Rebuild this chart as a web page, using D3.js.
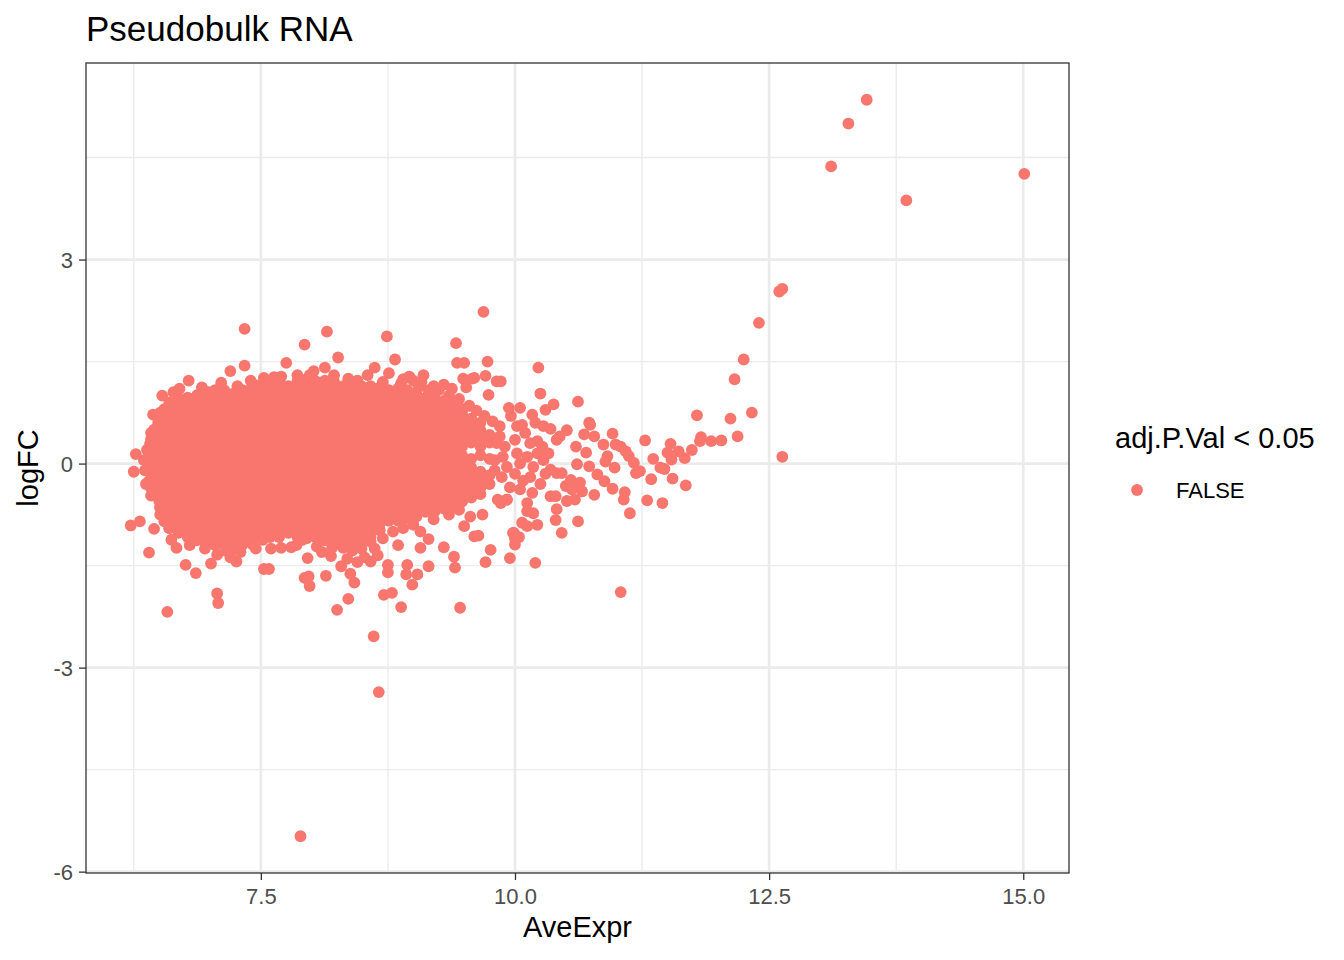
<!DOCTYPE html>
<html lang="en">
<head>
    <meta charset="UTF-8">
    <title>Pseudobulk RNA</title>
    <style>
        body { margin: 0; background: #fff; }
        svg { display: block; }
        text { font-family: "Liberation Sans", Arial, Helvetica, sans-serif; }
        .grid-major { stroke: #ebebeb; stroke-width: 2.7px; }
        .grid-minor { stroke: #ebebeb; stroke-width: 1.35px; }
        .axis line { stroke: #333333; stroke-width: 1.3px; }
        .axis text { fill: #4d4d4d; font-size: 22px; }
    </style>
</head>
<body>
    <script src="https://d3js.org/d3.v7.min.js"></script>
    <script>
        // axis ticks and grid
        const xMajor = [7.5, 10, 12.5, 15];
        const xMinor = [6.25, 8.75, 11.25, 13.75];
        const yMajor = [-6, -3, 0, 3];
        const yMinor = [-4.5, -1.5, 1.5, 4.5];

        const legendTitle = "adj.P.Val < 0.05";
        const legendLabels = ["FALSE"];

        // dense body of the cloud, one column of logFC values per AveExpr value
        const cloudColumns = [
            [6.42, [-0.47, -0.36, -0.23, -0.12, 0.01, 0.12, 0.25, 0.36, 0.45]],
            [6.51, [-0.75, -0.65, -0.54, -0.41, -0.30, -0.17, -0.06, 0.07, 0.18, 0.31, 0.42, 0.55, 0.66, 0.75]],
            [6.60, [-0.95, -0.84, -0.71, -0.60, -0.47, -0.36, -0.23, -0.12, 0.01, 0.12, 0.25, 0.36, 0.49, 0.60, 0.73, 0.84, 0.90]],
            [6.69, [-1.02, -0.89, -0.78, -0.65, -0.54, -0.41, -0.30, -0.17, -0.06, 0.07, 0.18, 0.31, 0.42, 0.55, 0.66, 0.79, 0.90, 0.96]],
            [6.78, [-1.08, -0.95, -0.84, -0.71, -0.60, -0.47, -0.36, -0.23, -0.12, 0.01, 0.12, 0.25, 0.36, 0.49, 0.60, 0.73, 0.84, 0.97]],
            [6.87, [-1.13, -1.02, -0.89, -0.78, -0.65, -0.54, -0.41, -0.30, -0.17, -0.06, 0.07, 0.18, 0.31, 0.42, 0.55, 0.66, 0.79, 0.90, 1.00]],
            [6.96, [-1.19, -1.08, -0.95, -0.84, -0.71, -0.60, -0.47, -0.36, -0.23, -0.12, 0.01, 0.12, 0.25, 0.36, 0.49, 0.60, 0.73, 0.84, 0.97, 1.05]],
            [7.05, [-1.20, -1.13, -1.02, -0.89, -0.78, -0.65, -0.54, -0.41, -0.30, -0.17, -0.06, 0.07, 0.18, 0.31, 0.42, 0.55, 0.66, 0.79, 0.90, 1.02]],
            [7.14, [-1.19, -1.08, -0.95, -0.84, -0.71, -0.60, -0.47, -0.36, -0.23, -0.12, 0.01, 0.12, 0.25, 0.36, 0.49, 0.60, 0.73, 0.84, 0.97, 1.08]],
            [7.23, [-1.25, -1.13, -1.02, -0.89, -0.78, -0.65, -0.54, -0.41, -0.30, -0.17, -0.06, 0.07, 0.18, 0.31, 0.42, 0.55, 0.66, 0.79, 0.90, 1.03]],
            [7.32, [-1.19, -1.08, -0.95, -0.84, -0.71, -0.60, -0.47, -0.36, -0.23, -0.12, 0.01, 0.12, 0.25, 0.36, 0.49, 0.60, 0.73, 0.84, 0.97, 1.08]],
            [7.41, [-1.13, -1.02, -0.89, -0.78, -0.65, -0.54, -0.41, -0.30, -0.17, -0.06, 0.07, 0.18, 0.31, 0.42, 0.55, 0.66, 0.79, 0.90, 1.03, 1.12]],
            [7.50, [-1.08, -0.95, -0.84, -0.71, -0.60, -0.47, -0.36, -0.23, -0.12, 0.01, 0.12, 0.25, 0.36, 0.49, 0.60, 0.73, 0.84, 0.97, 1.08, 1.15]],
            [7.59, [-1.08, -1.02, -0.89, -0.78, -0.65, -0.54, -0.41, -0.30, -0.17, -0.06, 0.07, 0.18, 0.31, 0.42, 0.55, 0.66, 0.79, 0.90, 1.03, 1.14]],
            [7.68, [-1.08, -0.95, -0.84, -0.71, -0.60, -0.47, -0.36, -0.23, -0.12, 0.01, 0.12, 0.25, 0.36, 0.49, 0.60, 0.73, 0.84, 0.97, 1.08, 1.20]],
            [7.77, [-1.02, -0.89, -0.78, -0.65, -0.54, -0.41, -0.30, -0.17, -0.06, 0.07, 0.18, 0.31, 0.42, 0.55, 0.66, 0.79, 0.90, 1.03, 1.14]],
            [7.86, [-1.08, -0.95, -0.84, -0.71, -0.60, -0.47, -0.36, -0.23, -0.12, 0.01, 0.12, 0.25, 0.36, 0.49, 0.60, 0.73, 0.84, 0.97, 1.08, 1.21]],
            [7.95, [-1.10, -1.02, -0.89, -0.78, -0.65, -0.54, -0.41, -0.30, -0.17, -0.06, 0.07, 0.18, 0.31, 0.42, 0.55, 0.66, 0.79, 0.90, 1.03, 1.14, 1.24]],
            [8.04, [-1.08, -0.95, -0.84, -0.71, -0.60, -0.47, -0.36, -0.23, -0.12, 0.01, 0.12, 0.25, 0.36, 0.49, 0.60, 0.73, 0.84, 0.97, 1.08, 1.21]],
            [8.13, [-1.13, -1.02, -0.89, -0.78, -0.65, -0.54, -0.41, -0.30, -0.17, -0.06, 0.07, 0.18, 0.31, 0.42, 0.55, 0.66, 0.79, 0.90, 1.03, 1.14, 1.22]],
            [8.22, [-1.18, -1.08, -0.95, -0.84, -0.71, -0.60, -0.47, -0.36, -0.23, -0.12, 0.01, 0.12, 0.25, 0.36, 0.49, 0.60, 0.73, 0.84, 0.97, 1.08, 1.20]],
            [8.31, [-1.24, -1.13, -1.02, -0.89, -0.78, -0.65, -0.54, -0.41, -0.30, -0.17, -0.06, 0.07, 0.18, 0.31, 0.42, 0.55, 0.66, 0.79, 0.90, 1.03, 1.14]],
            [8.40, [-1.28, -1.19, -1.08, -0.95, -0.84, -0.71, -0.60, -0.47, -0.36, -0.23, -0.12, 0.01, 0.12, 0.25, 0.36, 0.49, 0.60, 0.73, 0.84, 0.97, 1.08, 1.16]],
            [8.49, [-1.25, -1.13, -1.02, -0.89, -0.78, -0.65, -0.54, -0.41, -0.30, -0.17, -0.06, 0.07, 0.18, 0.31, 0.42, 0.55, 0.66, 0.79, 0.90, 1.03, 1.14]],
            [8.58, [-1.15, -1.08, -0.95, -0.84, -0.71, -0.60, -0.47, -0.36, -0.23, -0.12, 0.01, 0.12, 0.25, 0.36, 0.49, 0.60, 0.73, 0.84, 0.97, 1.08, 1.14]],
            [8.67, [-0.98, -0.89, -0.78, -0.65, -0.54, -0.41, -0.30, -0.17, -0.06, 0.07, 0.18, 0.31, 0.42, 0.55, 0.66, 0.79, 0.90, 1.03, 1.12]],
            [8.76, [-0.84, -0.71, -0.60, -0.47, -0.36, -0.23, -0.12, 0.01, 0.12, 0.25, 0.36, 0.49, 0.60, 0.73, 0.84, 0.97, 1.08]],
            [8.85, [-0.84, -0.78, -0.65, -0.54, -0.41, -0.30, -0.17, -0.06, 0.07, 0.18, 0.31, 0.42, 0.55, 0.66, 0.79, 0.90, 1.03, 1.10]],
            [8.94, [-0.80, -0.71, -0.60, -0.47, -0.36, -0.23, -0.12, 0.01, 0.12, 0.25, 0.36, 0.49, 0.60, 0.73, 0.84, 0.97, 1.08]],
            [9.03, [-0.78, -0.65, -0.54, -0.41, -0.30, -0.17, -0.06, 0.07, 0.18, 0.31, 0.42, 0.55, 0.66, 0.79, 0.90, 1.03]],
            [9.12, [-0.71, -0.60, -0.47, -0.36, -0.23, -0.12, 0.01, 0.12, 0.25, 0.36, 0.49, 0.60, 0.73, 0.84, 0.97]],
            [9.21, [-0.70, -0.65, -0.54, -0.41, -0.30, -0.17, -0.06, 0.07, 0.18, 0.31, 0.42, 0.55, 0.66, 0.79, 0.90, 0.96]],
            [9.30, [-0.66, -0.60, -0.47, -0.36, -0.23, -0.12, 0.01, 0.12, 0.25, 0.36, 0.49, 0.60, 0.73, 0.84, 0.92]],
            [9.39, [-0.62, -0.54, -0.41, -0.30, -0.17, -0.06, 0.07, 0.18, 0.31, 0.42, 0.55, 0.66, 0.79, 0.88]],
            [9.48, [-0.56, -0.47, -0.36, -0.23, -0.12, 0.01, 0.12, 0.25, 0.36, 0.49, 0.60, 0.73, 0.80]],
            [9.57, [-0.50, -0.41, -0.30, -0.17, -0.06, 0.07, 0.31, 0.42, 0.55, 0.66]],
            [9.66, [-0.45, -0.36, -0.23, -0.12, 0.12, 0.25, 0.36, 0.49, 0.60]],
            [9.75, [-0.30, -0.17, 0.07, 0.31, 0.42]]
        ];

        // ragged edge of the cloud
        const cloudEdge = [
            [7.34, 1.98], [7.93, 1.75], [7.34, 1.44], [7.75, 1.48], [7.20, 1.36], [6.79, 1.22],
            [7.11, 1.19], [6.99, 1.05], [6.64, 1.05], [6.53, 1.00], [6.88, 1.01], [6.44, 0.72],
            [6.49, 0.60], [6.41, 0.29], [6.27, 0.14], [6.25, -0.12], [6.40, -0.26], [6.45, -0.38],
            [6.51, -0.63], [6.58, -0.77], [6.22, -0.91], [6.31, -0.85], [6.45, -0.96], [6.62, -1.12],
            [6.67, -1.24], [6.40, -1.31], [6.76, -1.49], [6.86, -1.61], [7.01, -1.47], [7.07, -1.34],
            [7.26, -1.44], [7.42, -1.19], [7.52, -1.12], [7.53, -1.55], [7.58, -1.55], [7.70, -1.24],
            [7.80, -1.23], [7.96, -1.39], [7.93, -1.68], [7.98, -1.80], [7.07, -1.91], [7.08, -2.05],
            [6.58, -2.18], [7.91, -1.12],
            [8.15, 1.94], [8.26, 1.56], [8.74, 1.87], [8.82, 1.53], [9.69, 2.23], [9.42, 1.77],
            [9.43, 1.48], [9.50, 1.48], [9.73, 1.50], [9.71, 1.29], [9.82, 1.21], [9.49, 1.25],
            [9.58, 1.25], [8.02, 1.36], [8.13, 1.41], [8.62, 1.41], [8.96, 1.28], [7.27, 1.14],
            [7.63, 1.27], [7.53, 1.26], [8.76, 1.33], [9.60, 1.26], [9.74, 1.01],
            [6.70, 1.10], [6.92, 1.12], [7.05, 1.08], [7.40, 1.22], [7.46, 1.15], [7.70, 1.28],
            [7.86, 1.30], [7.98, 1.30], [8.22, 1.30], [8.36, 1.25], [8.45, 1.22], [8.55, 1.30],
            [8.70, 1.20], [8.88, 1.18], [9.05, 1.12], [9.15, 1.08], [9.25, 1.08], [9.35, 1.00],
            [9.45, 0.95], [9.55, 0.85], [9.62, 0.78], [9.70, 0.70], [9.78, 0.62], [9.85, 0.55],
            [9.52, 1.12], [9.30, 1.16], [8.90, 1.24], [9.08, 1.20], [9.20, 1.14], [9.38, 1.10],
            [9.10, 1.30], [9.00, 1.22],
            [8.14, -1.65], [7.97, -1.66], [8.25, -2.15], [8.36, -1.99], [8.42, -1.75], [8.38, -1.62],
            [8.29, -1.51], [8.19, -1.36], [8.20, -1.24], [8.58, -1.44], [8.75, -1.49], [8.75, -1.60],
            [8.71, -1.93], [8.79, -1.90], [8.88, -2.11], [8.94, -1.49], [8.93, -1.63], [9.04, -1.63],
            [8.99, -1.78], [9.15, -1.51], [9.07, -1.24], [9.07, -1.00], [9.15, -1.11], [9.30, -1.23],
            [9.40, -1.37], [9.41, -1.53], [9.46, -2.12], [9.50, -0.92], [9.56, -0.78], [9.68, -0.75],
            [9.60, -1.07], [9.64, -1.06], [9.76, -1.27], [9.71, -1.45], [9.95, -1.39], [9.99, -1.02],
            [10.00, -1.10], [9.83, -0.53], [9.92, -0.53], [9.33, -0.60],
            [7.60, -1.25], [7.85, -1.20], [8.05, -1.22], [8.10, -1.30], [8.35, -1.40], [8.45, -1.45],
            [8.52, -1.38], [8.62, -1.25], [8.70, -1.10], [8.80, -1.00], [8.90, -0.95], [9.00, -0.90],
            [9.20, -0.82], [9.35, -0.75], [9.45, -0.68], [8.85, -1.20], [8.65, -1.35], [7.15, -1.28],
            [7.30, -1.30], [6.95, -1.25], [6.80, -1.20], [7.45, -1.25], [7.20, -1.38],
            [6.35, 0.05], [6.36, -0.10], [6.38, 0.20], [6.45, 0.50], [6.55, 0.80], [6.50, -0.55],
            [6.55, -0.85], [6.60, -0.95], [6.37, -0.30]
        ];

        // thinner tail towards high expression
        const tail = [
            [12.40, 2.07], [12.25, 1.53], [12.16, 1.24], [11.79, 0.71], [12.12, 0.66], [12.33, 0.75],
            [12.19, 0.40], [12.63, 0.10], [12.03, 0.34], [11.93, 0.33], [11.83, 0.39], [11.82, 0.33],
            [11.74, 0.20], [11.67, 0.08], [11.61, 0.18], [11.53, 0.29], [11.50, 0.16], [11.54, 0.06],
            [11.36, 0.07], [11.28, 0.34], [11.43, -0.06], [11.47, -0.08], [11.34, -0.23], [11.55, -0.22],
            [11.68, -0.32], [11.30, -0.54], [11.45, -0.58], [11.13, -0.73], [11.08, -0.42], [11.07, -0.53],
            [11.19, -0.14], [11.23, -0.11], [11.17, 0.01], [11.12, 0.11], [11.09, 0.18], [11.04, 0.25],
            [10.99, 0.28], [10.96, 0.44], [10.87, 0.28], [10.91, 0.11], [10.89, 0.03], [10.98, -0.06],
            [10.96, -0.37], [10.78, -0.46], [11.04, -1.89], [10.62, -0.85], [10.46, -1.02], [10.40, -0.83],
            [10.41, -0.67], [10.20, -1.46], [10.00, -1.19], [10.04, -1.08], [9.98, -1.02], [10.07, -0.87],
            [10.12, -0.92], [10.22, -0.90], [10.12, -0.58], [10.18, -0.73], [10.12, -0.70], [10.23, 1.41],
            [10.25, 1.03], [10.38, 0.87], [10.30, 0.79], [10.62, 0.91], [9.94, 0.82], [10.05, 0.82],
            [9.86, 1.21], [9.96, 0.70], [10.07, 0.57], [10.17, 0.72], [10.20, 0.60], [10.28, 0.55],
            [10.35, 0.51], [10.51, 0.49], [10.41, 0.35], [10.44, 0.40], [10.60, 0.25], [10.73, 0.60],
            [10.74, 0.57], [10.68, 0.43], [10.78, 0.40], [10.70, 0.16], [10.61, -0.01], [10.73, -0.04],
            [10.81, -0.16], [10.88, -0.26], [10.64, -0.28], [10.66, -0.41], [10.27, 0.25], [10.22, 0.33],
            [10.35, -0.09], [10.41, -0.14], [10.46, -0.14], [10.55, -0.24], [10.56, -0.38], [10.50, -0.33],
            [10.35, -0.48], [10.40, -0.48], [10.51, -0.55], [10.59, -0.53], [10.17, -0.43], [10.05, -0.38],
            [9.92, -0.53], [9.86, -0.58],
            [9.85, 0.40], [9.90, 0.25], [9.88, 0.10], [9.92, -0.05], [9.87, -0.20], [9.95, -0.35],
            [10.00, 0.35], [10.02, 0.15], [10.05, 0.00], [10.00, -0.15], [10.08, -0.25], [10.10, 0.45],
            [10.15, 0.30], [10.12, 0.10], [10.18, -0.05], [10.15, -0.20], [10.25, -0.30], [10.28, 0.05],
            [10.22, 0.15], [9.82, 0.30], [9.80, -0.10], [9.80, 0.05], [10.02, 0.55], [10.30, -0.15],
            [10.33, 0.15]
        ];

        // isolated genes far from the cloud
        const outliers = [
            [13.46, 5.35], [13.28, 5.00], [13.11, 4.37], [13.85, 3.87], [15.01, 4.26],
            [12.60, 2.53], [12.63, 2.57], [8.61, -2.54], [8.66, -3.36], [7.89, -5.48]
        ];

        const points = cloudColumns
            .flatMap(([x, ys]) => ys.map(y => [x, y]))
            .concat(cloudEdge, tail, outliers);

        const W = 1344, H = 960;
        const panel = {left: 86, right: 1069, top: 63, bottom: 873};
        const pointColor = "#F8766D";
        const radius = 5.9;

        const svg = d3.select("body").append("svg")
            .attr("width", W)
            .attr("height", H);

        svg.append("rect").attr("width", W).attr("height", H).attr("fill", "#fff");

        const x = d3.scaleLinear().domain([5.78, 15.45]).range([panel.left, panel.right]);
        const y = d3.scaleLinear().domain([-6.02, 5.89]).range([panel.bottom, panel.top]);

        // grid
        const grid = svg.append("g");
        grid.selectAll("line.vmin").data(xMinor).join("line")
            .attr("class", "grid-minor")
            .attr("x1", d => x(d)).attr("x2", d => x(d))
            .attr("y1", panel.top).attr("y2", panel.bottom);
        grid.selectAll("line.hmin").data(yMinor).join("line")
            .attr("class", "grid-minor")
            .attr("x1", panel.left).attr("x2", panel.right)
            .attr("y1", d => y(d)).attr("y2", d => y(d));
        grid.selectAll("line.vmaj").data(xMajor).join("line")
            .attr("class", "grid-major")
            .attr("x1", d => x(d)).attr("x2", d => x(d))
            .attr("y1", panel.top).attr("y2", panel.bottom);
        grid.selectAll("line.hmaj").data(yMajor).join("line")
            .attr("class", "grid-major")
            .attr("x1", panel.left).attr("x2", panel.right)
            .attr("y1", d => y(d)).attr("y2", d => y(d));

        // points
        svg.append("g")
            .selectAll("circle")
            .data(points)
            .join("circle")
            .attr("cx", d => x(d[0]))
            .attr("cy", d => y(d[1]))
            .attr("r", radius)
            .attr("fill", pointColor);

        // panel border
        svg.append("rect")
            .attr("x", panel.left).attr("y", panel.top)
            .attr("width", panel.right - panel.left)
            .attr("height", panel.bottom - panel.top)
            .attr("fill", "none")
            .attr("stroke", "#333333")
            .attr("stroke-width", 1.3);

        // axes
        const xAxis = svg.append("g")
            .attr("class", "axis")
            .attr("transform", `translate(0,${panel.bottom})`)
            .call(d3.axisBottom(x).tickValues(xMajor).tickFormat(d3.format(".1f")).tickSize(7).tickSizeOuter(0));
        xAxis.select(".domain").remove();
        xAxis.selectAll("text").attr("dy", null).attr("y", 31);

        const yAxis = svg.append("g")
            .attr("class", "axis")
            .attr("transform", `translate(${panel.left},0)`)
            .call(d3.axisLeft(y).tickValues(yMajor).tickFormat(d => String(d)).tickSize(7).tickSizeOuter(0));
        yAxis.select(".domain").remove();
        yAxis.selectAll("text").attr("x", -13).attr("dy", "0.36em");

        // titles
        svg.append("text")
            .attr("x", panel.left).attr("y", 41)
            .attr("font-size", 35)
            .attr("fill", "#000")
            .text("Pseudobulk RNA");

        svg.append("text")
            .attr("x", (panel.left + panel.right) / 2).attr("y", 937)
            .attr("text-anchor", "middle")
            .attr("font-size", 29)
            .text("AveExpr");

        svg.append("text")
            .attr("transform", `translate(38,${(panel.top + panel.bottom) / 2}) rotate(-90)`)
            .attr("text-anchor", "middle")
            .attr("font-size", 29)
            .text("logFC");

        // legend
        const legend = svg.append("g").attr("transform", "translate(1115,0)");
        legend.append("text")
            .attr("x", 0).attr("y", 448)
            .attr("font-size", 29)
            .text(legendTitle);
        const keys = legend.selectAll("g.key").data(legendLabels).join("g")
            .attr("class", "key")
            .attr("transform", (d, i) => `translate(0,${490 + i * 35})`);
        keys.append("circle")
            .attr("cx", 22).attr("cy", 0)
            .attr("r", radius)
            .attr("fill", pointColor);
        keys.append("text")
            .attr("x", 61).attr("y", 8)
            .attr("font-size", 22)
            .text(d => d);
    </script>
</body>
</html>
